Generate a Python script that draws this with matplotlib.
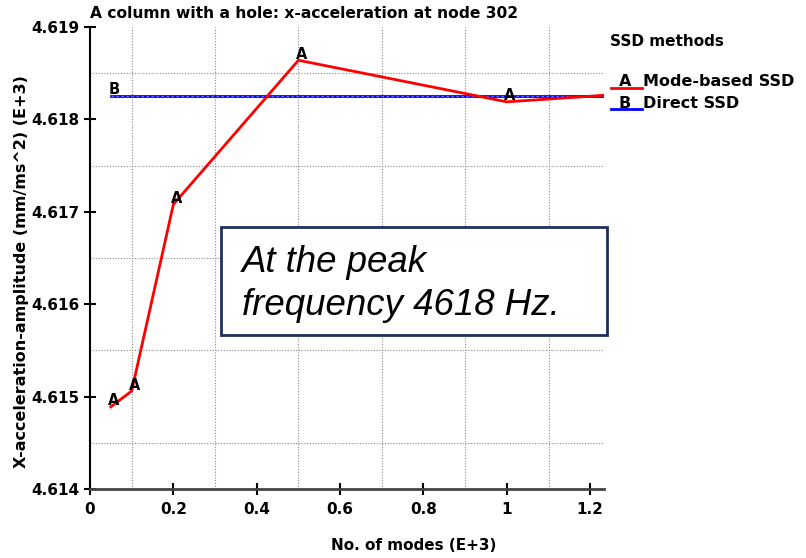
import matplotlib
matplotlib.use("Agg")
import matplotlib.pyplot as plt
from matplotlib.patches import Rectangle
from matplotlib.lines import Line2D
from matplotlib.ticker import FixedLocator

plt.rcParams['font.family'] = ['DejaVu Sans']

title = "A column with a hole: x-acceleration at node 302"
xlabel = "No. of modes (E+3)"
ylabel = "X-acceleration-amplitude (mm/ms^2) (E+3)"

modes_a = [0.05, 0.1, 0.2, 0.5, 1.0, 1.23]
acc_a = [4.61489, 4.61506, 4.61708, 4.61864, 4.61819, 4.61826]
labels_a = ["A", "A", "A", "A", "A", ""]

modes_b = [0.05, 1.23]
acc_b = [4.618256, 4.618256]
labels_b = ["B", ""]

xticks = [0, 0.2, 0.4, 0.6, 0.8, 1.0, 1.2]
xticklabels = ["0", "0.2", "0.4", "0.6", "0.8", "1", "1.2"]
yticks = [4.614, 4.615, 4.616, 4.617, 4.618, 4.619]
yticklabels = ["4.614", "4.615", "4.616", "4.617", "4.618", "4.619"]

legend_title = "SSD methods"
legend_names = ["Mode-based SSD", "Direct SSD"]
legend_letters = ["A", "B"]
colors = ["#ff0000", "#0000ff"]
note = "At the peak\nfrequency 4618 Hz."

W, H = 806, 558
fig = plt.figure(figsize=(W / 100, H / 100), dpi=100)
ax = fig.add_axes([90 / W, 1 - 489 / H, (604 - 90) / W, (489 - 27) / H])

ax.set_xlim(0, 1.233)
ax.set_ylim(4.614, 4.619)

ax.plot(modes_b, acc_b, color=colors[1], lw=2, zorder=3)
ax.plot(modes_b, acc_b, color="white", lw=0.6, ls=(0, (3, 3)), alpha=0.5, zorder=3)
ax.plot(modes_a, acc_a, color=colors[0], lw=2, zorder=4)

for x, y, t in zip(modes_a, acc_a, labels_a):
    if t:
        ax.annotate(t, (x, y), xytext=(3, 6), textcoords="offset pixels",
                    ha="center", va="center", fontsize=10.5, fontweight="bold", zorder=5)
for x, y, t in zip(modes_b, acc_b, labels_b):
    if t:
        ax.annotate(t, (x, y), xytext=(3, 6), textcoords="offset pixels",
                    ha="center", va="center", fontsize=10.5, fontweight="bold", zorder=5)

ax.set_xticks(xticks)
ax.set_xticklabels(xticklabels, fontweight="bold")
ax.set_yticks(yticks)
ax.set_yticklabels(yticklabels, fontweight="bold")
ax.xaxis.set_minor_locator(FixedLocator([0.1, 0.3, 0.5, 0.7, 0.9, 1.1]))
ax.yaxis.set_minor_locator(FixedLocator([4.6145, 4.6155, 4.6165, 4.6175, 4.6185]))
ax.grid(which="minor", color="#8a8a8a", ls=(0, (1, 1.5)), lw=0.8)
ax.grid(which="major", visible=False)
ax.tick_params(which="minor", length=0)
ax.tick_params(which="major", direction="inout", length=9, width=1.5,
               labelsize=11, pad=3)
ax.tick_params(axis="x", which="major", pad=5)

for s in ["top", "right"]:
    ax.spines[s].set_visible(False)
ax.spines["left"].set_linewidth(1.5)
ax.spines["bottom"].set_linewidth(2)
ax.spines["bottom"].set_color("#444444")

fig.text(90 / W, 1 - 13 / H, title, fontsize=11.2, fontweight="bold", ha="left", va="center")
fig.text(414 / W, 1 - 545 / H, xlabel, fontsize=11, fontweight="bold", ha="center", va="center")
fig.text(22 / W, 1 - 272 / H, ylabel, fontsize=11.5, fontweight="bold", ha="center", va="center",
         rotation=90)

# legend
fig.text(610 / W, 1 - 42 / H, legend_title, fontsize=11, fontweight="bold", ha="left", va="center")
for i, (name, letter, c) in enumerate(zip(legend_names, legend_letters, colors)):
    yl = 88 + i * 21
    fig.add_artist(Line2D([611 / W, 642 / W], [1 - yl / H, 1 - yl / H], color=c, lw=2))
    fig.text(625 / W, 1 - (yl - 6) / H, letter, fontsize=11.5, fontweight="bold", ha="center", va="center")
    fig.text(643 / W, 1 - (yl - 6) / H, name, fontsize=11.5, fontweight="bold", ha="left", va="center")

# annotation box
fig.add_artist(Rectangle((221 / W, 1 - 335 / H), (607 - 221) / W, (335 - 227) / H,
                         facecolor="white", edgecolor="#1f2f60", lw=2, zorder=10))
fig.text(242 / W, 1 - 284 / H, note, fontsize=26.4, fontstyle="italic", ha="left", va="center",
         family="Liberation Sans", linespacing=1.28, zorder=11)

fig.savefig("out.png", dpi=100)
